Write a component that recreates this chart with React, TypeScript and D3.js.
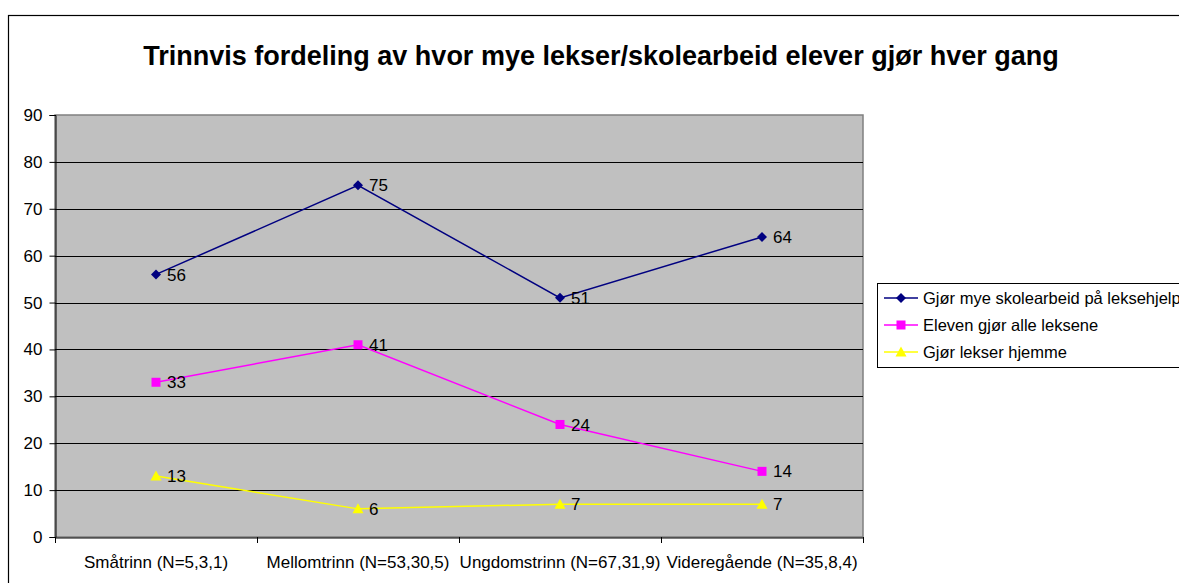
import { useEffect, useRef } from "react";
import * as d3 from "d3";

const categories = [
  "Småtrinn (N=5,3,1)",
  "Mellomtrinn (N=53,30,5)",
  "Ungdomstrinn (N=67,31,9)",
  "Videregående (N=35,8,4)",
];
const seriesNames = [
  "Gjør mye skolearbeid på leksehjelpa",
  "Eleven gjør alle leksene",
  "Gjør lekser hjemme",
];
const mye = [56, 75, 51, 64];
const alle = [33, 41, 24, 14];
const hjemme = [13, 6, 7, 7];
const yTicks = [0, 10, 20, 30, 40, 50, 60, 70, 80, 90];
const colors = ["#000080", "#FF00FF", "#FFFF00"];
const markers = ["diamond", "square", "triangle"];

const App = () => {
  const svgRef = useRef<SVGSVGElement>(null);

  useEffect(() => {
    const svg = d3.select(svgRef.current);
    svg.selectAll("*").remove();
    const font = "Liberation Sans, Arial, sans-serif";

    // outer chart frame
    svg
      .append("rect")
      .attr("x", 8.5)
      .attr("y", 15.5)
      .attr("width", 1200)
      .attr("height", 600)
      .attr("fill", "white")
      .attr("stroke", "black")
      .attr("stroke-width", 1.2);

    svg
      .append("text")
      .attr("x", 601)
      .attr("y", 65)
      .attr("text-anchor", "middle")
      .style("font-family", font)
      .style("font-weight", "bold")
      .style("font-size", "27px")
      .text("Trinnvis fordeling av hvor mye lekser/skolearbeid elever gjør hver gang");

    const left = 55, right = 863, top = 115, bottom = 537;

    const x = d3.scaleBand().domain(categories).range([left, right]);
    const y = d3.scaleLinear().domain([0, 90]).range([bottom, top]);

    svg
      .append("rect")
      .attr("x", left)
      .attr("y", top)
      .attr("width", right - left)
      .attr("height", bottom - top)
      .attr("fill", "#C0C0C0")
      .attr("stroke", "#808080")
      .attr("stroke-width", 1.5);

    svg
      .selectAll(".grid")
      .data(yTicks.filter((t) => t > 0 && t < 90))
      .enter()
      .append("line")
      .attr("x1", left)
      .attr("x2", right)
      .attr("y1", (d) => Math.round(y(d)) + 0.5)
      .attr("y2", (d) => Math.round(y(d)) + 0.5)
      .attr("stroke", "black");

    // y axis
    const yAxis = svg
      .append("g")
      .attr("transform", `translate(${left + 0.5},0)`)
      .call(d3.axisLeft(y).tickValues(yTicks).tickSize(6).tickPadding(7));
    yAxis.select(".domain").attr("stroke", "black");
    yAxis.selectAll("text").style("font-family", font).style("font-size", "17px").attr("fill", "black");

    // x axis
    const xAxis = svg
      .append("g")
      .attr("transform", `translate(0,${bottom + 0.5})`)
      .call(d3.axisBottom(x).tickSize(0).tickPadding(18));
    xAxis.select(".domain").attr("stroke", "black");
    xAxis.selectAll("text").style("font-family", font).style("font-size", "17px").attr("fill", "black");
    svg
      .selectAll(".xtick")
      .data([...categories.map((c) => x(c) as number), right])
      .enter()
      .append("line")
      .attr("x1", (d) => Math.round(d) + 0.5)
      .attr("x2", (d) => Math.round(d) + 0.5)
      .attr("y1", bottom)
      .attr("y2", bottom + 6)
      .attr("stroke", "black");

    const cx = (c: string) => (x(c) as number) + x.bandwidth() / 2;

    const drawMarker = (g: any, kind: string, px: number, py: number, color: string) => {
      if (kind === "diamond") {
        g.append("path")
          .attr("d", `M${px},${py - 5}L${px + 5},${py}L${px},${py + 5}L${px - 5},${py}Z`)
          .attr("fill", color);
      } else if (kind === "square") {
        g.append("rect")
          .attr("x", px - 4.5)
          .attr("y", py - 4.5)
          .attr("width", 9)
          .attr("height", 9)
          .attr("fill", color);
      } else {
        g.append("path")
          .attr("d", `M${px},${py - 5.5}L${px + 5.5},${py + 4.5}L${px - 5.5},${py + 4.5}Z`)
          .attr("fill", color);
      }
    };

    const series = [mye, alle, hjemme];
    const line = d3
      .line<number>()
      .x((_, i) => cx(categories[i]))
      .y((d) => y(d));

    // draw in reverse so blue is on top
    [2, 1, 0].forEach((s) => {
      const g = svg.append("g");
      g.append("path")
        .attr("d", line(series[s]))
        .attr("fill", "none")
        .attr("stroke", colors[s])
        .attr("stroke-width", 1.5);
      series[s].forEach((v, i) => {
        drawMarker(g, markers[s], cx(categories[i]), y(v), colors[s]);
        g.append("text")
          .attr("x", cx(categories[i]) + 11)
          .attr("y", y(v))
          .attr("dy", "0.36em")
          .style("font-family", font)
          .style("font-size", "17px")
          .text(v);
      });
    });

    // legend
    const lg = svg.append("g");
    lg.append("rect")
      .attr("x", 877.5)
      .attr("y", 283.5)
      .attr("width", 400)
      .attr("height", 84)
      .attr("fill", "white")
      .attr("stroke", "black");
    seriesNames.forEach((name, i) => {
      const ly = 298 + i * 27;
      lg.append("line")
        .attr("x1", 884)
        .attr("x2", 918)
        .attr("y1", ly)
        .attr("y2", ly)
        .attr("stroke", colors[i])
        .attr("stroke-width", 1.5);
      drawMarker(lg, markers[i], 901, ly, colors[i]);
      lg.append("text")
        .attr("x", 923)
        .attr("y", ly)
        .attr("dy", "0.36em")
        .style("font-family", font)
        .style("font-size", "16.5px")
        .text(name);
    });
  }, []);

  return (
    <svg
      ref={svgRef}
      width={1179}
      height={583}
      style={{ position: "absolute", left: 0, top: 0 }}
    />
  );
};

export default App;
